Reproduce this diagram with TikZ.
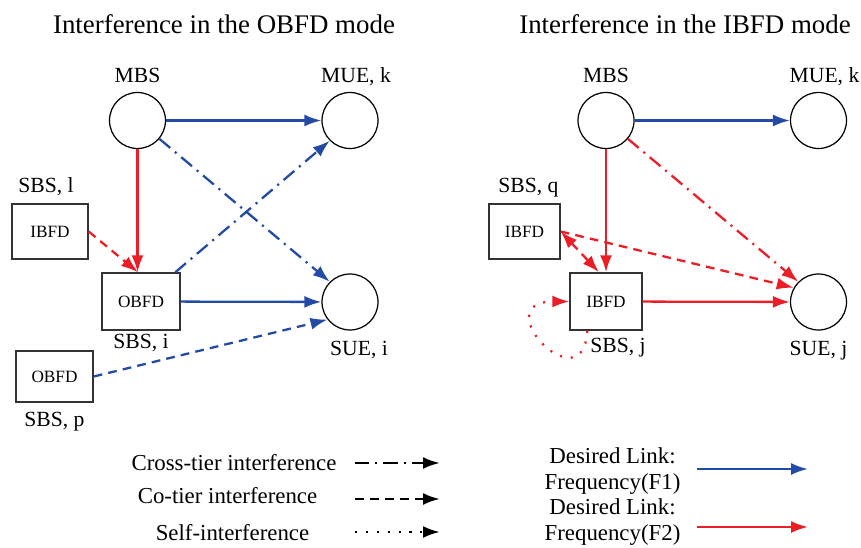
\documentclass[tikz,border=0pt]{standalone}
\usepackage{fontspec}
\setmainfont{Liberation Serif}
\usepackage{xcolor}
\usepackage{tikz}
\usetikzlibrary{arrows.meta,positioning,calc}
\definecolor{linkblue}{RGB}{35,75,165}
\definecolor{linkred}{RGB}{235,30,40}

\begin{document}
\begin{tikzpicture}[
        x=0.02cm, y=-0.02cm,
        ue/.style={draw, circle, minimum size=1.12cm, inner sep=0pt, line width=0.7pt},
        sbsbox/.style={draw=black!80, line width=0.8pt, minimum width=1.52cm, minimum height=1.1cm, inner sep=0pt, font=\rmfamily\fontsize{9.8}{11}\selectfont},
        lbl/.style={inner sep=0pt, text height=8.5pt, text depth=2.5pt, font=\rmfamily\fontsize{12.3}{14}\selectfont},
        ttl/.style={inner sep=0pt, anchor=base, font=\rmfamily\fontsize{15.3}{18}\selectfont},
        legtext/.style={inner sep=0pt, align=center, font=\rmfamily\fontsize{13}{15.3}\selectfont},
        arr/.style={-{Latex[length=3.4mm, width=2.4mm]}, line width=1.3pt},
        crosstier/.style={arr, dash pattern=on 8pt off 3.5pt on 1.2pt off 3.5pt},
        cotier/.style={arr, dash pattern=on 5pt off 3.5pt},
        selfint/.style={arr, dash pattern=on 1.2pt off 5pt}
    ]
    \useasboundingbox (0,0) rectangle (861,547);

    \node[ttl] (ttlobfd) at (224,34) {Interference in the OBFD mode};
    \node[ttl] (ttlibfd) at (685,34) {Interference in the IBFD mode};

    \node[ue] (mbsA) at (137.5,120.5) {};
    \node[ue] (mueA) at (350,120.5) {};
    \node[sbsbox] (sbsl) at (50,231.5) {IBFD};
    \node[sbsbox, minimum width=1.56cm, minimum height=1.14cm] (sbsi) at (141,301.5) {OBFD};
    \node[ue] (suei) at (350,302) {};
    \node[sbsbox, minimum width=1.54cm, minimum height=1.02cm] (sbsp) at (54.5,376.5) {OBFD};

    \node[lbl, above=0.09cm of mbsA] (lmbsA) {MBS};
    \node[lbl, above=0.09cm of mueA, xshift=0.12cm] (lmueA) {MUE, k};
    \node[lbl, above=0.13cm of sbsl, xshift=-0.08cm] (lsbsl) {SBS, l};
    \node[lbl, below=0.06cm of sbsi] (lsbsi) {SBS, i};
    \node[lbl, below=0.2cm of suei, xshift=0.18cm] (lsuei) {SUE, i};
    \node[lbl, below=0.17cm of sbsp] (lsbsp) {SBS, p};

    \node[ue] (mbsB) at (606,120.5) {};
    \node[ue] (mueB) at (818.5,120.5) {};
    \node[sbsbox, minimum width=1.42cm] (sbsq) at (524.5,231.5) {IBFD};
    \node[sbsbox, minimum width=1.44cm, minimum height=1.14cm] (sbsj) at (606,301.5) {IBFD};
    \node[ue] (suej) at (818.5,302) {};

    \node[lbl, above=0.09cm of mbsB] (lmbsB) {MBS};
    \node[lbl, above=0.09cm of mueB, xshift=0.12cm] (lmueB) {MUE, k};
    \node[lbl, above=0.13cm of sbsq, xshift=0.08cm] (lsbsq) {SBS, q};
    \node[lbl, below=0.13cm of sbsj, xshift=0.24cm] (lsbsj) {SBS, j};
    \node[lbl, below=0.2cm of suej] (lsuej) {SUE, j};

    \draw[arr, linkblue] (mbsA) -- (mueA);
    \draw[arr, linkred] (mbsA) -- (mbsA |- sbsi.north);
    \draw[crosstier, linkblue] (mbsA) -- (suei.north west);
    \draw[crosstier, linkblue] (sbsi) -- (mueA.south west);
    \draw[cotier, linkred] (sbsl.east) -- ([xshift=-0.06cm]sbsi.north);
    \draw[arr, linkblue] (sbsi) -- (suei);
    \draw[cotier, linkblue] (sbsp.east) -- (suei.218);

    \draw[arr, linkblue] (mbsB) -- (mueB);
    \draw[arr, linkred] (mbsB) -- (mbsB |- sbsj.north);
    \draw[crosstier, linkred] (mbsB) -- (suej.north west);
    \draw[cotier, linkred, {Latex[length=3.4mm, width=2.4mm]}-{Latex[length=3.4mm, width=2.4mm]}] (sbsq.east) -- ([xshift=-0.14cm]sbsj.north);
    \draw[cotier, linkred] (sbsq.east) -- (suej.150);
    \draw[arr, linkred] (sbsj) -- (suej);
    \draw[selfint, linkred] ([xshift=0.36cm]sbsj.south west) .. controls +(-4,75) and +(-85,0) .. (sbsj.west);

    \node[inner sep=0pt, anchor=base, font=\rmfamily\fontsize{13}{15.3}\selectfont] (legcross) at (234,470) {Cross-tier interference};
    \node[inner sep=0pt, anchor=base, font=\rmfamily\fontsize{13}{15.3}\selectfont] (legco) at (227.5,503) {Co-tier interference};
    \node[inner sep=0pt, anchor=base, font=\rmfamily\fontsize{13}{15.3}\selectfont] (legself) at (232.5,540) {Self-interference};
    \coordinate (crossS) at (355,463);
    \coordinate (crossE) at (440,463);
    \coordinate (coS) at (355,499);
    \coordinate (coE) at (440,499);
    \coordinate (selfS) at (355,532);
    \coordinate (selfE) at (440,532);
    \draw[crosstier, line width=1.5pt] (crossS) -- (crossE);
    \draw[cotier, line width=1.5pt] (coS) -- (coE);
    \draw[selfint, line width=1.5pt] (selfS) -- (selfE);

    \node[legtext] (legf1) at (612.5,471) {Desired Link:\\Frequency(F1)};
    \node[legtext] (legf2) at (612.5,522) {Desired Link:\\Frequency(F2)};
    \coordinate (f1S) at (697,469);
    \coordinate (f1E) at (808,469);
    \coordinate (f2S) at (697,527);
    \coordinate (f2E) at (808,527);
    \draw[arr, linkblue] (f1S) -- (f1E);
    \draw[arr, linkred] (f2S) -- (f2E);
    \end{tikzpicture}
\end{document}
